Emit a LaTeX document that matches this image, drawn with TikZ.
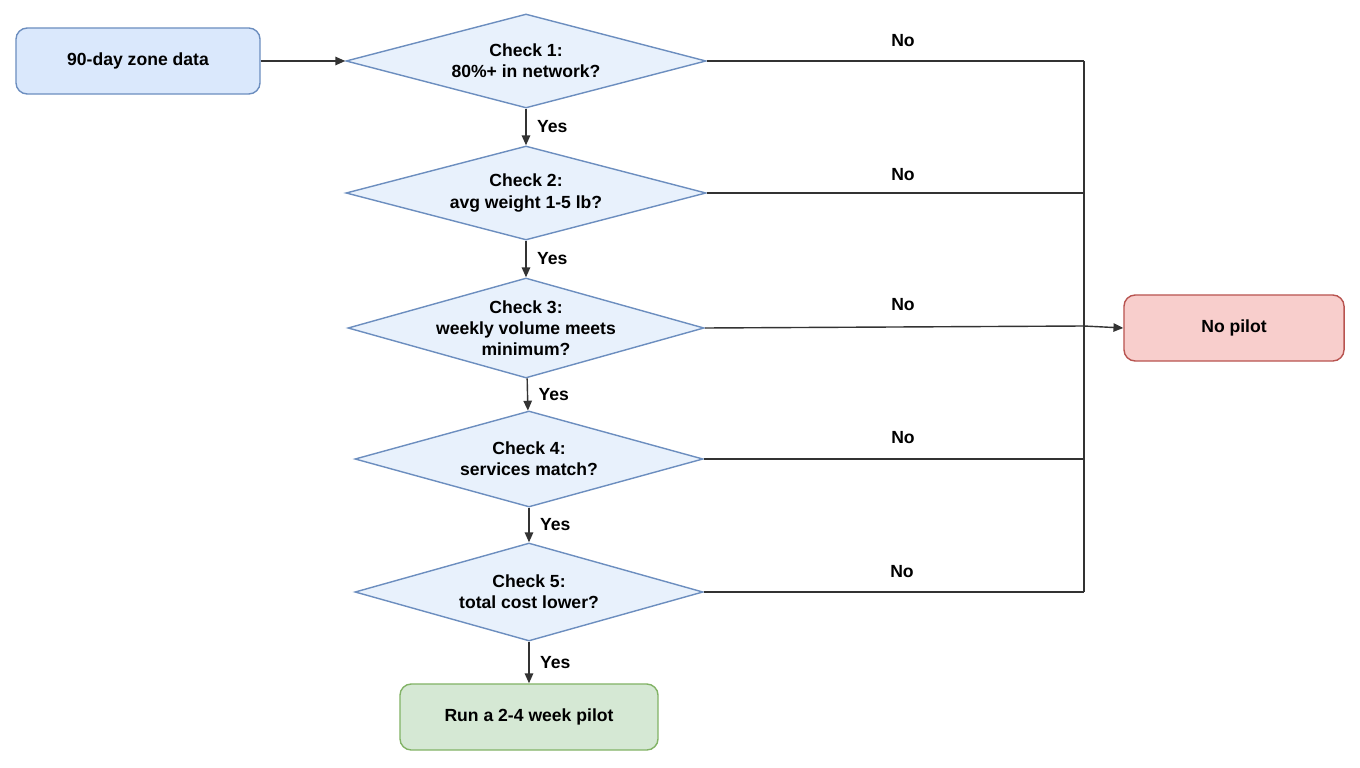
\documentclass[tikz,border=0pt]{standalone}
\usepackage{fontspec}
\setmainfont{Liberation Sans}
\usetikzlibrary{shapes.geometric,arrows.meta}
\definecolor{bfill}{HTML}{DAE8FC}\definecolor{bline}{HTML}{6C8EBF}
\definecolor{gfill}{HTML}{D5E8D4}\definecolor{gline}{HTML}{82B366}
\definecolor{rfill}{HTML}{F8CECC}\definecolor{rline}{HTML}{B85450}
\definecolor{dfill}{HTML}{E8F1FC}
\begin{document}
\begin{tikzpicture}[x=0.025cm,y=-0.025cm,
  every node/.style={font=\fontsize{12.5}{15}\selectfont\bfseries},
  boxb/.style={draw=bline,fill=bfill,rounded corners=8pt,line width=1pt,minimum width=6.1cm,minimum height=1.65cm},
  boxg/.style={draw=gline,fill=gfill,rounded corners=8pt,line width=1pt,minimum width=6.45cm,minimum height=1.65cm},
  boxr/.style={draw=rline,fill=rfill,rounded corners=8pt,line width=1pt,minimum width=5.5cm,minimum height=1.65cm},
  dia/.style={diamond,draw=bline,fill=dfill,line width=1pt,inner sep=0pt},
  txt/.style={align=center},
  lab/.style={},
  conn/.style={draw=black!80,line width=1pt},
  arr/.style={conn,-{Triangle[length=7pt,width=6pt]}}]
\useasboundingbox (0,0) rectangle (1360,768);
\node[boxb] (start) at (138,61) {90-day zone data};
\node[dia,minimum width=9cm,minimum height=2.35cm] (d1) at (526,61) {};
\node[txt] (t1) at (526,61) {Check 1:\\80\%+ in network?};
\node[dia,minimum width=9cm,minimum height=2.35cm] (d2) at (526,193) {};
\node[txt] (t2) at (526,193) {Check 2:\\avg weight 1-5 lb?};
\node[dia,minimum width=8.9cm,minimum height=2.5cm] (d3) at (526,328) {};
\node[txt] (t3) at (526,328) {Check 3:\\weekly volume meets\\minimum?};
\node[dia,minimum width=8.7cm,minimum height=2.4cm] (d4) at (529,459) {};
\node[txt] (t4) at (529,459) {Check 4:\\services match?};
\node[dia,minimum width=8.7cm,minimum height=2.45cm] (d5) at (529,592) {};
\node[txt] (t5) at (529,592) {Check 5:\\total cost lower?};
\node[boxg] (pilot) at (529,717) {Run a 2-4 week pilot};
\node[boxr] (nop) at (1234,328) {No pilot};
\coordinate (j1) at (1084,61);
\coordinate (j2) at (1084,193);
\coordinate (j3) at (1084,326);
\coordinate (j4) at (1084,459);
\coordinate (j5) at (1084,592);
\draw[arr] (start) -- (d1);
\draw[arr] (d1) -- node[right=4pt]{Yes} (d2);
\draw[arr] (d2) -- node[right=4pt]{Yes} (d3);
\draw[arr] (d3) -- node[right=4pt]{Yes} (d4);
\draw[arr] (d4) -- node[right=4pt]{Yes} (d5);
\draw[arr] (d5) -- node[right=4pt]{Yes} (pilot);
\draw[conn] (d1.east) -- (j1);
\draw[conn] (d2.east) -- (j2);
\draw[conn] (d3.east) -- (j3);
\draw[conn] (d4.east) -- (j4);
\draw[conn] (d5.east) -- (j5);
\draw[conn] (j1) -- (j5);
\draw[arr] (j3) -- (nop.west);
\node[lab] (n1) at (903,41) {No};
\node[lab] (n2) at (903,175) {No};
\node[lab] (n3) at (903,305) {No};
\node[lab] (n4) at (903,438) {No};
\node[lab] (n5) at (902,572) {No};
\end{tikzpicture}
\end{document}
